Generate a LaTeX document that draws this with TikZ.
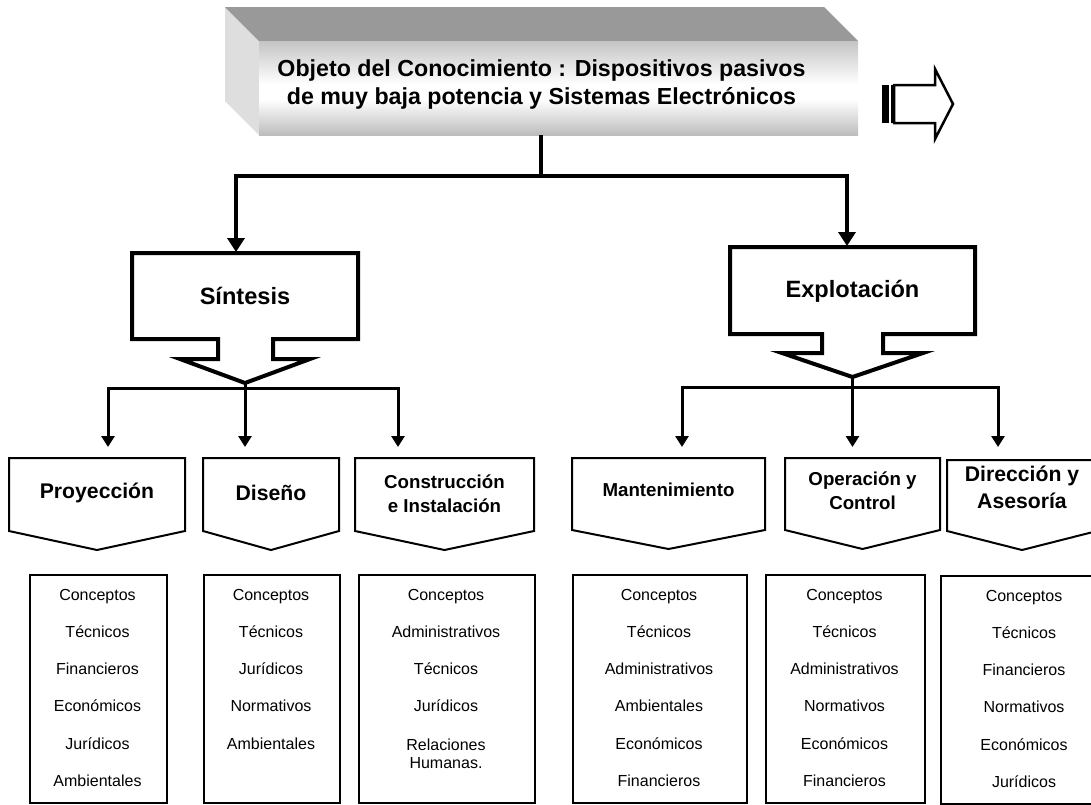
\documentclass[tikz,border=0pt]{standalone}
\usepackage{fontspec}
\setmainfont{Liberation Sans}
\usetikzlibrary{arrows.meta}

% front face of the title block: grey at the edges, white band below the middle
\pgfdeclareverticalshading{facegrad}{100bp}{%
  color(0bp)=(black!26); color(25bp)=(black!26); color(44bp)=(white);
  color(52bp)=(white); color(75bp)=(black!23); color(100bp)=(black!23)}

% pentagon label frame: left x, right x, tip x, top y, side bottom y, tip y
\newcommand\chevbox[6]{%
  \draw[penta] (#1,#4) -- (#2,#4) -- (#2,#5) -- (#3,#6) -- (#1,#5) -- cycle;}

\begin{document}
\begin{tikzpicture}[x=1pt,y=-1pt,
  every node/.style={inner sep=0pt},
  heavy/.style={line width=4pt, line join=miter},
  medium/.style={line width=3pt, line join=miter},
  bigtip/.style={-{Triangle[width=17pt,length=14pt]}},
  smalltip/.style={-{Triangle[width=13pt,length=11pt]}},
  bracket/.style={line width=4pt, line join=miter, fill=white},
  penta/.style={line width=2pt, line join=miter, fill=white},
  listbox/.style={draw, line width=2pt, anchor=north west},
  title/.style={font=\bfseries\fontsize{23.2}{28}\selectfont, align=center},
  head/.style={font=\bfseries\fontsize{23.6}{27}\selectfont},
  sub/.style={font=\bfseries\fontsize{21.2}{27}\selectfont, align=center},
  subs/.style={font=\bfseries\fontsize{18.7}{24}\selectfont, align=center},
  item/.style={font=\fontsize{16}{18}\selectfont, text height=11.5pt, text depth=3.4pt}]

\useasboundingbox (0,0) rectangle (1091,804);
\clip (0,0) rectangle (1091,804);

% ---- title block (bevelled slab) ----
\fill[black!13] (225,7) -- (259,41) -- (259,135) -- (225,101) -- cycle;
\fill[black!40] (225,7) -- (824,7) -- (858,41) -- (259,41) -- cycle;
\shade[shading=facegrad] (259,41) rectangle (858,135);
\node[title] (obj) at (541.5,84.5)
  {Objeto del Conocimiento : Dispositivos pasivos\\de muy baja potencia y Sistemas Electrónicos};

% ---- striped arrow to the right ----
\fill (882,85) rectangle (889,123);
\fill (891,85) rectangle (893,123);
\draw[line width=2.5pt, line join=miter]
  (894,85) -- (935,85) -- (935,69) -- (953,104) -- (935,139) -- (935,123) -- (894,123) -- cycle;

% ---- first level ----
\coordinate (objBase) at (541,135);
\coordinate (hub) at (541,176);
\coordinate (sintIn) at (236,252);
\coordinate (explIn) at (847,246);
\draw[heavy] (objBase) -- (hub);
\draw[heavy,bigtip] (hub) -| (sintIn);
\draw[heavy,bigtip] (hub) -| (explIn);

% Síntesis block arrow
\draw[bracket] (132,253) -- (358,253) -- (358,339) -- (273,339) -- (273,359) -- (310,359)
  -- (245,383) -- (180,359) -- (218,359) -- (218,339) -- (132,339) -- cycle;
\node[head] (sint) at (245,296) {Síntesis};

% Explotación block arrow
\draw[bracket] (730,247) -- (975,247) -- (975,334) -- (883,334) -- (883,353) -- (923,353)
  -- (852.5,377) -- (782,353) -- (822,353) -- (822,334) -- (730,334) -- cycle;
\node[head] (expl) at (852.5,291) {Explotación};

% ---- second level connectors ----
\coordinate (sintTip) at (245,383);
\coordinate (busL) at (245,388);
\coordinate (proyIn) at (108,447);
\coordinate (disIn) at (245,447);
\coordinate (conIn) at (398,447);
\draw[medium] (sintTip) -- (busL);
\draw[medium,smalltip] (busL) -| (proyIn);
\draw[medium,smalltip] (busL) -- (disIn);
\draw[medium,smalltip] (busL) -| (conIn);

\coordinate (explTip) at (852.5,377);
\coordinate (busR) at (852.5,387);
\coordinate (manIn) at (682,447);
\coordinate (opeIn) at (852.5,447);
\coordinate (dirIn) at (998,447);
\draw[medium] (explTip) -- (busR);
\draw[medium,smalltip] (busR) -| (manIn);
\draw[medium,smalltip] (busR) -- (opeIn);
\draw[medium,smalltip] (busR) -| (dirIn);

% ---- pentagon labels ----
\chevbox{9}{185}{97}{458}{531}{550}
\node[sub] (proy) at (97,493) {Proyección};
\chevbox{203}{339}{271}{458}{531}{550}
\node[sub] (dis) at (271,493) {Diseño};
\chevbox{355}{534}{444.5}{458}{531}{550}
\node[subs] (con) at (444.5,494) {Construcción\\e Instalación};
\chevbox{572}{765}{668.5}{458}{530}{549}
\node[subs] (man) at (668.5,490) {Mantenimiento};
\chevbox{785}{940}{862.5}{458}{530}{549}
\node[subs] (ope) at (862.5,491) {Operación y\\Control};
\chevbox{947}{1097}{1022}{460}{531}{550}
\node[sub] (dir) at (1022,487.5) {Dirección y\\Asesoría};

% ---- lists of concepts ----
\node[listbox, minimum width=137pt, minimum height=228pt] (b1) at (29,574) {};
\foreach \t [count=\i] in {Conceptos,Técnicos,Financieros,Económicos,Jurídicos,Ambientales}
  \node[item] (b1-\i) at (97.5,{596+(\i-1)*37.3}) {\t};

\node[listbox, minimum width=136pt, minimum height=228pt] (b2) at (203,574) {};
\foreach \t [count=\i] in {Conceptos,Técnicos,Jurídicos,Normativos,Ambientales}
  \node[item] (b2-\i) at (271,{596+(\i-1)*37.3}) {\t};

\node[listbox, minimum width=176pt, minimum height=228pt] (b3) at (358,574) {};
\foreach \t [count=\i] in {Conceptos,Administrativos,Técnicos,Jurídicos}
  \node[item] (b3-\i) at (446,{596+(\i-1)*37.3}) {\t};
\node[font=\fontsize{16}{18}\selectfont, align=center] (b3-5) at (446,754) {Relaciones\\Humanas.};

\node[listbox, minimum width=174pt, minimum height=228pt] (b4) at (572,574) {};
\foreach \t [count=\i] in {Conceptos,Técnicos,Administrativos,Ambientales,Económicos,Financieros}
  \node[item] (b4-\i) at (659,{596+(\i-1)*37.3}) {\t};

\node[listbox, minimum width=159pt, minimum height=228pt] (b5) at (765,574) {};
\foreach \t [count=\i] in {Conceptos,Técnicos,Administrativos,Normativos,Económicos,Financieros}
  \node[item] (b5-\i) at (844.5,{596+(\i-1)*37.3}) {\t};

\node[listbox, minimum width=168pt, minimum height=228pt] (b6) at (940,575) {};
\foreach \t [count=\i] in {Conceptos,Técnicos,Financieros,Normativos,Económicos,Jurídicos}
  \node[item] (b6-\i) at (1024,{597+(\i-1)*37.3}) {\t};

\end{tikzpicture}
\end{document}
